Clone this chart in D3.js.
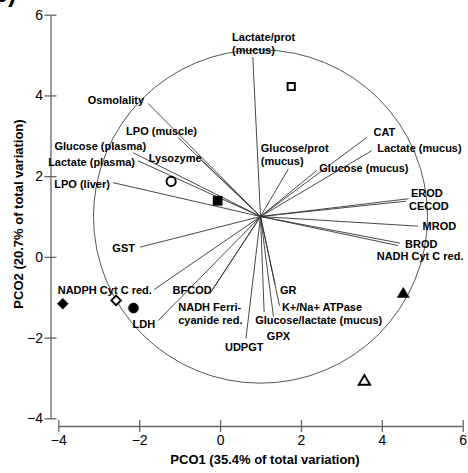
<!DOCTYPE html>
<html><head><meta charset="utf-8">
<script src="https://cdn.jsdelivr.net/npm/d3@7"></script>
<style>body{margin:0;background:#fff;} text{font-family:"Liberation Sans",Arial,sans-serif;}</style>
</head><body><svg id="c" width="468" height="473"></svg>
<script>
// ---- data ----
const xTicks = [-4, -2, 0, 2, 4, 6];
const yTicks = [-4, -2, 0, 2, 4, 6];
const xTitle = "PCO1 (35.4% of total variation)";
const yTitle = "PCO2 (20.7% of total variation)";
const panelTag = "(b)";

const vectorOrigin = [1, 1];
const circleRadius = 4.13;

const vectorNames = [
  ["Lactate/prot", "(mucus)"], ["Osmolality"], ["LPO (muscle)"], ["Lysozyme"],
  ["Glucose (plasma)"], ["Lactate (plasma)"], ["LPO (liver)"], ["Glucose/prot", "(mucus)"],
  ["CAT"], ["Lactate (mucus)"], ["Glucose (mucus)"], ["EROD"], ["CECOD"], ["MROD"],
  ["BROD"], ["NADH Cyt C red."], ["GR"], ["K+/Na+ ATPase"], ["Glucose/lactate (mucus)"],
  ["GPX"], ["UDPGT"], ["GST"], ["NADPH Cyt C red."], ["BFCOD"],
  ["NADH Ferri-", "cyanide red."], ["LDH"]
];
const vectorX = [0.81, -1.78, -1.04, -0.45, -2.15, -2.03, -2.65, 1.69, 3.63, 3.75, 2.39, 4.66, 4.60, 4.90,
  4.45, 4.40, 1.36, 1.47, 1.09, 1.32, 0.64, -1.98, -1.63, -0.20, -0.25, -1.53];
const vectorY = [4.95, 3.80, 2.96, 2.38, 2.58, 2.38, 1.84, 2.18, 2.96, 2.63, 2.14, 1.44, 1.38, 0.76,
  0.34, 0.28, -0.68, -1.21, -1.37, -1.48, -2.02, 0.24, -0.81, -0.83, -0.91, -1.58];

const sampleX = [1.76, -1.21, -0.06, -3.89, -2.57, -2.14, 4.53, 3.57];
const sampleY = [4.22, 1.87, 1.39, -1.16, -1.08, -1.27, -0.89, -3.06];
const sampleShape = ["squareOpen", "circleOpen", "squareFilled", "diamondFilled", "diamondOpen",
  "circleFilled", "triangleFilled", "triangleOpen"];

// ---- layout (label offsets in px from vector tip) ----
const labelLayout = [
  ["start", -20.7, -16.2], ["end", -4, 1], ["end", 19, -2.5], ["end", -0.3, 1],
  ["end", 13, -3], ["end", -3, 5.5], ["end", -3, 5], ["start", -27.6, -17.3],
  ["start", 6.6, -1.2], ["start", 5.6, 1.5], ["start", 2.6, 1.5], ["start", 2.4, -1.5],
  ["start", 3, 9], ["start", 4.4, 3.8], ["start", 5, 5.3], ["start", -21.3, 14],
  ["start", 5, 10], ["start", 2.4, 5.5], ["start", -9, 12.3], ["start", -6.6, 23],
  ["start", -21, 12.5], ["end", -5, 5.3], ["end", -2.3, 4], ["end", -0.3, 4],
  ["start", -31.7, 17.5], ["end", -3, 7]
];

const svg = d3.select("#c");
const x = d3.scaleLinear().domain([-4, 6]).range([58.3, 462.7]);
const y = d3.scaleLinear().domain([-4, 6]).range([418.3, 14.7]);
const axisColor = "#666";

// panel tag (cropped at top, as in the source figure)
svg.append("text").attr("x", 16).attr("y", 2).attr("text-anchor", "end")
  .attr("font-size", 24).attr("font-weight", "bold").text(panelTag);

// axes
const gx = svg.append("g").attr("transform", "translate(0,426)")
  .call(d3.axisBottom(x).tickValues(xTicks).tickSizeOuter(0).tickFormat(d3.format("d")));
const gy = svg.append("g").attr("transform", "translate(50.5,0)")
  .call(d3.axisLeft(y).tickValues(yTicks).tickSizeOuter(0).tickFormat(d3.format("d")));
[gx, gy].forEach(g => {
  g.select(".domain").attr("stroke", axisColor).attr("stroke-width", 1.3);
  g.selectAll(".tick line").attr("stroke", axisColor).attr("stroke-width", 1.3);
  g.selectAll(".tick text").attr("font-size", 14).attr("fill", "#000")
    .attr("font-family", '"Liberation Sans",Arial,sans-serif');
});
gx.selectAll(".tick line").attr("y1", -6).attr("y2", 6);
gx.selectAll(".tick text").attr("y", 9);
gy.selectAll(".tick line").attr("x1", -6).attr("x2", 6);
gy.selectAll(".tick text").attr("x", -7.5);

svg.append("text").attr("x", 265).attr("y", 464).attr("text-anchor", "middle")
  .attr("font-size", 13).attr("font-weight", "bold").text(xTitle);
svg.append("text").attr("transform", "translate(23,214) rotate(-90)").attr("text-anchor", "middle")
  .attr("font-size", 13).attr("font-weight", "bold").text(yTitle);

// correlation circle
const cx = x(vectorOrigin[0]), cy = y(vectorOrigin[1]);
svg.append("ellipse").attr("cx", cx).attr("cy", cy)
  .attr("rx", x(vectorOrigin[0] + circleRadius) - cx).attr("ry", cy - y(vectorOrigin[1] + circleRadius))
  .attr("fill", "none").attr("stroke", "#555").attr("stroke-width", 1);

// vectors
const vecs = vectorNames.map((n, i) => ({ name: n, vx: vectorX[i], vy: vectorY[i], lay: labelLayout[i] }));
svg.append("g").selectAll("line").data(vecs).join("line")
  .attr("x1", cx).attr("y1", cy)
  .attr("x2", d => x(d.vx)).attr("y2", d => y(d.vy))
  .attr("stroke", "#333").attr("stroke-width", 0.9);

const lab = svg.append("g").selectAll("text").data(vecs).join("text")
  .attr("font-size", 11).attr("font-weight", "bold").attr("fill", "#000")
  .attr("text-anchor", d => d.lay[0])
  .attr("x", d => x(d.vx) + d.lay[1]).attr("y", d => y(d.vy) + d.lay[2]);
lab.each(function (d) {
  const t = d3.select(this);
  d.name.forEach((s, k) => {
    t.append("tspan").attr("x", x(d.vx) + d.lay[1]).attr("dy", k === 0 ? 0 : 13).text(s);
  });
});

// samples
function shapePath(kind, s) {
  if (kind.startsWith("square")) return `M${-s},${-s}H${s}V${s}H${-s}Z`;
  if (kind.startsWith("diamond")) return `M0,${-s}L${s},0L0,${s}L${-s},0Z`;
  if (kind.startsWith("triangle")) return `M0,${-s}L${s * 1.1},${s * 0.85}L${-s * 1.1},${s * 0.85}Z`;
  return null;
}
const samples = sampleX.map((v, i) => ({ sx: v, sy: sampleY[i], kind: sampleShape[i] }));
const sg = svg.append("g");
samples.forEach(d => {
  const open = d.kind.endsWith("Open");
  const px = x(d.sx), py = y(d.sy);
  let el;
  if (d.kind.startsWith("circle")) {
    el = sg.append("circle").attr("cx", px).attr("cy", py).attr("r", open ? 4.6 : 5);
  } else {
    const size = { squareOpen: 3.6, squareFilled: 4.6, diamondFilled: 5.5, diamondOpen: 4.8,
      triangleFilled: 5.5, triangleOpen: 5.2 }[d.kind];
    el = sg.append("path").attr("transform", `translate(${px},${py})`).attr("d", shapePath(d.kind, size));
  }
  el.attr("fill", open ? "#fff" : "#000").attr("stroke", "#000").attr("stroke-width", open ? 1.9 : 0.5);
});
</script></body></html>
